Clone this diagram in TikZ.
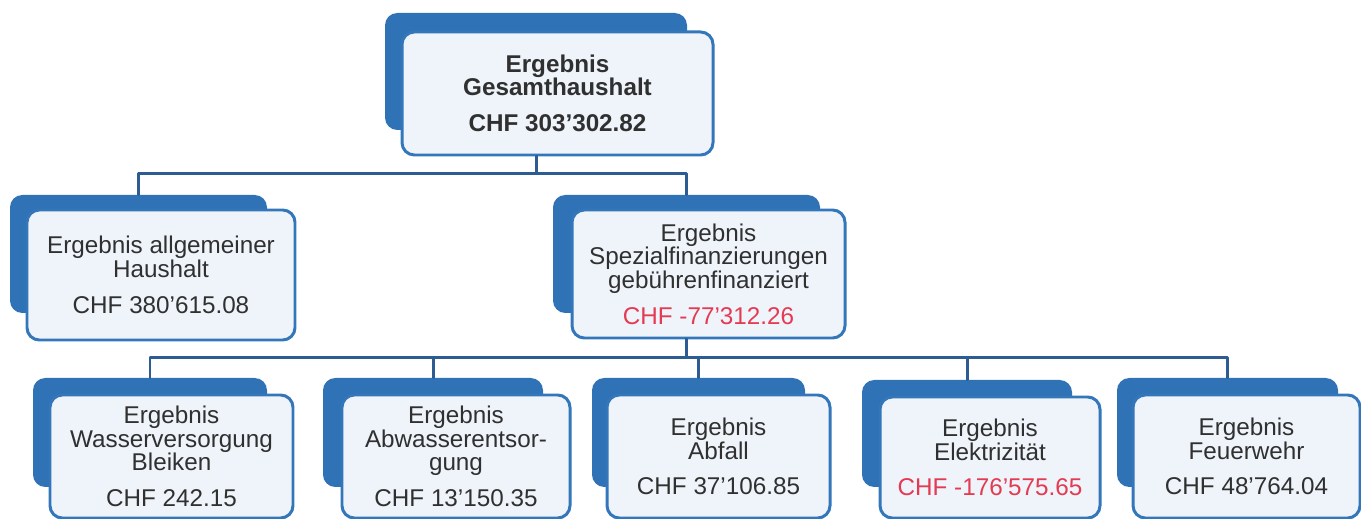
\documentclass[tikz,border=0pt]{standalone}
\usepackage{fontspec}
\setmainfont{Liberation Sans}
\usepackage{tikz}
\usetikzlibrary{fit}
\usetikzlibrary{positioning}

\definecolor{backblue}{RGB}{48,114,182}
\definecolor{frameblue}{RGB}{52,118,186}
\definecolor{frontfill}{RGB}{238,244,250}
\definecolor{connblue}{RGB}{44,92,146}
\definecolor{txtgray}{RGB}{48,48,48}
\definecolor{minusred}{RGB}{228,58,82}

\tikzset{
  backbox/.style={fill=backblue,draw=none,rounded corners=7pt,inner sep=0pt},
  frontbox/.style={fill=frontfill,draw=frameblue,line width=1.7pt,rounded corners=7pt,inner sep=0pt},
  boxtext/.style={align=center,text=txtgray,inner sep=0pt,
    font=\fontsize{13.8}{13.4}\selectfont},
  conn/.style={draw=connblue,line width=1.7pt}
}
\newcommand{\minus}[1]{\textcolor{minusred}{#1}}

\begin{document}
\begin{tikzpicture}[line cap=round,line join=round,x=0.02cm,y=-0.02cm]
      \useasboundingbox (0,0) rectangle (1361,519);
      % oberste Ebene
      \node[backbox,fit={(385,13) (687,130)}] (gesB) {};
      \node[frontbox,fit={(402,32) (713,155)}] (ges) {};
      \node[boxtext] (gesT) at (ges.center) {\textbf{Ergebnis}\\\textbf{Gesamthaushalt}\\[7pt]\textbf{CHF 303'302.82}};
      % zweite Ebene
      \node[backbox,fit={(10,195) (267,313)}] (allgB) {};
      \node[frontbox,fit={(27,210) (295,340)}] (allg) {};
      \node[boxtext] (allgT) at (allg.center) {Ergebnis allgemeiner\\Haushalt\\[7pt]CHF 380'615.08};
      \node[backbox,fit={(553,195) (820,313)}] (spezB) {};
      \node[frontbox,fit={(572,210) (845,338)}] (spez) {};
      \node[boxtext] (spezT) at (spez.center) {Ergebnis\\Spezialfinanzierungen\\geb\"uhrenfinanziert\\[7pt]\minus{CHF -77'312.26}};
      % dritte Ebene
      \node[backbox,fit={(33,378) (267,487)}] (wasB) {};
      \node[frontbox,fit={(50,395) (293,518)}] (was) {};
      \node[boxtext] (wasT) at (was.center) {Ergebnis\\Wasserversorgung\\Bleiken\\[7pt]CHF 242.15};
      \node[backbox,fit={(323,378) (543,487)}] (abwB) {};
      \node[frontbox,fit={(342,395) (570,518)}] (abw) {};
      \node[boxtext] (abwT) at (abw.center) {Ergebnis\\Abwasserentsor-\\gung\\[7pt]CHF 13'150.35};
      \node[backbox,fit={(592,378) (805,487)}] (abfB) {};
      \node[frontbox,fit={(607,395) (830,518)}] (abf) {};
      \node[boxtext] (abfT) at (abf.center) {Ergebnis\\Abfall\\[7pt]CHF 37'106.85};
      \node[backbox,fit={(862,380) (1072,487)}] (elekB) {};
      \node[frontbox,fit={(880,397) (1100,518)}] (elek) {};
      \node[boxtext] (elekT) at (elek.center) {Ergebnis\\Elektrizit\"at\\[7pt]\minus{CHF -176'575.65}};
      \node[backbox,fit={(1117,378) (1338,487)}] (feuB) {};
      \node[frontbox,fit={(1133,395) (1360,518)}] (feu) {};
      \node[boxtext] (feuT) at (feu.center) {Ergebnis\\Feuerwehr\\[7pt]CHF 48'764.04};
      % Verbindungen
      \draw[conn] (gesB |- ges.south) -- ++(0,17) -| (allgB.north);
      \draw[conn] (gesB |- ges.south) -- ++(0,17) -| (spezB.north);
      \foreach \n in {wasB,abwB,abfB,elekB,feuB}
        \draw[conn] (spezB |- spez.south) -- ++(0,18) -| (\n.north);
\end{tikzpicture}
\end{document}
